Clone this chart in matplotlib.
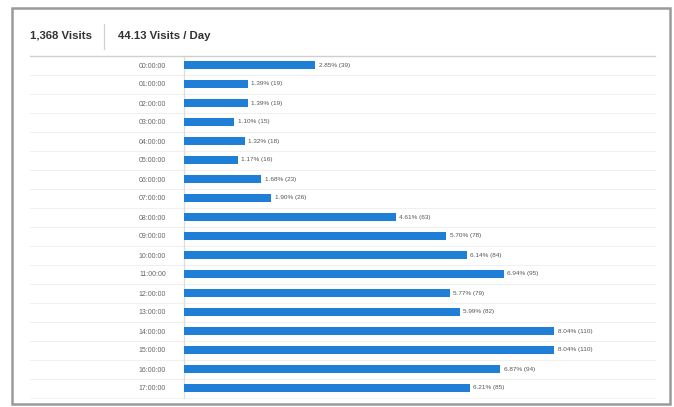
import matplotlib
matplotlib.use("Agg")
import matplotlib.pyplot as plt
from matplotlib.patches import Rectangle
from matplotlib.lines import Line2D

hours = ["00:00:00", "01:00:00", "02:00:00", "03:00:00", "04:00:00", "05:00:00",
         "06:00:00", "07:00:00", "08:00:00", "09:00:00", "10:00:00", "11:00:00",
         "12:00:00", "13:00:00", "14:00:00", "15:00:00", "16:00:00", "17:00:00"]
visits = [39, 19, 19, 15, 18, 16, 23, 26, 63, 78, 84, 95, 79, 82, 110, 110, 94, 85]
percents = ["2.85%", "1.39%", "1.39%", "1.10%", "1.32%", "1.17%", "1.68%", "1.90%",
            "4.61%", "5.70%", "6.14%", "6.94%", "5.77%", "5.99%", "8.04%", "8.04%",
            "6.87%", "6.21%"]
total_text = "1,368 Visits"
per_day_text = "44.13 Visits / Day"

plt.rcParams['font.family'] = ['Liberation Sans', 'DejaVu Sans']

W, H = 674, 407
fig = plt.figure(figsize=(W / 100, H / 100), dpi=100)
fig.patch.set_facecolor("white")

def fx(px):
    return px / W

def fy(py):
    return 1 - py / H

# outer frame
fig.patches.append(Rectangle((fx(12), fy(404)), fx(670) - fx(12), fy(8) - fy(404),
                             transform=fig.transFigure, fill=False,
                             edgecolor="#9a9a9a", linewidth=1.8))

# header
fig.text(fx(30), fy(36), total_text, fontsize=8.2, fontweight="bold",
         color="#333333", va="center", ha="left")
fig.text(fx(118), fy(36), per_day_text, fontsize=8.2, fontweight="bold",
         color="#333333", va="center", ha="left")
fig.lines.append(Line2D([fx(104), fx(104)], [fy(24), fy(49)], transform=fig.transFigure,
                        color="#d0d0d0", linewidth=0.9))
fig.lines.append(Line2D([fx(30), fx(655)], [fy(56), fy(56)], transform=fig.transFigure,
                        color="#cfcfcf", linewidth=1.0))

left_px, right_px = 184, 655
top_px, bot_px = 55.5, 397.5
ax = fig.add_axes([fx(left_px), fy(bot_px), fx(right_px) - fx(left_px), fy(top_px) - fy(bot_px)])

ypos = list(range(len(hours)))
ax.barh(ypos, visits, height=0.38, color="#1f7fd6", zorder=3)
ax.set_xlim(0, 140)
ax.set_ylim(len(hours) - 0.5, -0.5)

for y, v, p in zip(ypos, visits, percents):
    ax.annotate(f"{p} ({v})", (v, y), xytext=(2.5, 0), textcoords="offset points",
                fontsize=4.6, color="#555555", va="center", ha="left")

# row separators
xmin_ax = (30 - left_px) / (right_px - left_px)
for y in ypos[:-1]:
    ax.plot([xmin_ax, 1.0], [y + 0.5, y + 0.5], transform=ax.get_yaxis_transform(),
            color="#f0f0f0", linewidth=0.8, clip_on=False, zorder=1)
ax.plot([xmin_ax, 1.0], [len(hours) - 0.5, len(hours) - 0.5], transform=ax.get_yaxis_transform(),
        color="#f4f4f4", linewidth=0.8, clip_on=False, zorder=1)

ax.set_yticks(ypos)
ax.set_yticklabels(hours, fontsize=5.0, color="#666666")
ax.tick_params(axis="y", length=0, pad=13)
ax.set_xticks([])
for s in ["top", "right", "bottom"]:
    ax.spines[s].set_visible(False)
ax.spines["left"].set_color("#dddddd")
ax.spines["left"].set_linewidth(0.9)
ax.set_facecolor("none")

fig.savefig("out.png", dpi=100, facecolor="white")
